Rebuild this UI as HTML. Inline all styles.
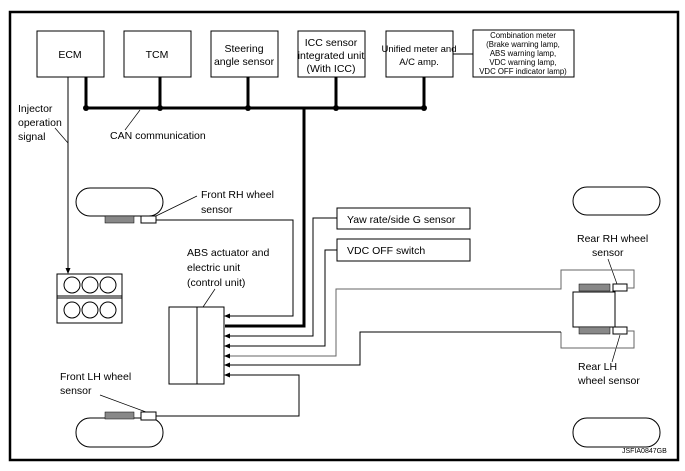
<!DOCTYPE html>
<html><head><meta charset="utf-8"><style>
html,body{margin:0;padding:0;background:#fff}
svg{display:block}
text{font-family:"Liberation Sans",Arial,sans-serif;fill:#000}
</style></head><body>
<svg width="685" height="471" viewBox="0 0 685 471" xmlns="http://www.w3.org/2000/svg">
<defs><marker id="a" markerWidth="6" markerHeight="6" refX="5" refY="3" orient="auto" markerUnits="userSpaceOnUse"><path d="M0,0.5 L6,3 L0,5.5z" fill="#000"/></marker></defs>
<rect x="10" y="12" width="668" height="448" fill="none" stroke="#000" stroke-width="2.5"/>
<g fill="#fff" stroke="#000" stroke-width="1">
<rect x="37" y="31" width="67" height="46"/>
<rect x="124" y="31" width="67" height="46"/>
<rect x="211" y="31" width="67" height="46"/>
<rect x="298" y="31" width="67" height="46"/>
<rect x="386" y="31" width="67" height="46"/>
<rect x="473" y="30" width="101" height="47"/>
</g>
<g font-size="10.5" text-anchor="middle">
<text x="70" y="58">ECM</text>
<text x="157" y="58">TCM</text>
<text x="244" y="52">Steering</text><text x="244" y="65">angle sensor</text>
<text x="331" y="46">ICC sensor</text><text x="331" y="59">integrated unit</text><text x="331" y="72">(With ICC)</text>
<text x="419" y="52" font-size="9.5">Unified meter and</text><text x="419" y="65" font-size="9.5">A/C amp.</text>
</g>
<g font-size="7.8" text-anchor="middle">
<text x="523" y="38">Combination meter</text><text x="523" y="47">(Brake warning lamp,</text><text x="523" y="56">ABS warning lamp,</text><text x="523" y="65">VDC warning lamp,</text><text x="523" y="74">VDC OFF indicator lamp)</text>
</g>
<line x1="453" y1="54" x2="473" y2="54" stroke="#000"/>
<g stroke="#000" stroke-width="3" fill="none">
<line x1="86" y1="108" x2="424" y2="108"/>
<line x1="86" y1="77" x2="86" y2="108"/><line x1="160" y1="77" x2="160" y2="108"/><line x1="248" y1="77" x2="248" y2="108"/><line x1="336" y1="77" x2="336" y2="108"/><line x1="424" y1="77" x2="424" y2="108"/>
<polyline points="304,108 304,326 225,326"/>
</g>
<g fill="#000"><circle cx="86" cy="108" r="3"/><circle cx="160" cy="108" r="3"/><circle cx="248" cy="108" r="3"/><circle cx="336" cy="108" r="3"/><circle cx="424" cy="108" r="3"/></g>
<line x1="125" y1="130" x2="140" y2="110" stroke="#000" stroke-width=".7"/>
<text x="110" y="139" font-size="10.5">CAN communication</text>
<text x="18" y="112" font-size="10.5">Injector</text><text x="18" y="126" font-size="10.5">operation</text><text x="18" y="140" font-size="10.5">signal</text>
<line x1="55" y1="128" x2="68" y2="143" stroke="#000" stroke-width=".7"/>
<line x1="68" y1="77" x2="68" y2="273" stroke="#000" marker-end="url(#a)"/>
<g fill="#fff" stroke="#000"><rect x="57" y="274" width="65" height="49"/><line x1="57" y1="296" x2="122" y2="296"/><line x1="57" y1="298" x2="122" y2="298"/>
<circle cx="72" cy="285" r="8"/><circle cx="90" cy="285" r="8"/><circle cx="108" cy="285" r="8"/>
<circle cx="72" cy="310" r="8"/><circle cx="90" cy="310" r="8"/><circle cx="108" cy="310" r="8"/></g>
<g fill="#fff" stroke="#000">
<rect x="76" y="188" width="87" height="28" rx="14"/><rect x="573" y="187" width="87" height="28" rx="14"/>
<rect x="76" y="418" width="87" height="29" rx="14"/><rect x="573" y="418" width="87" height="29" rx="14"/>
<rect x="141" y="216" width="15" height="7"/><rect x="141" y="412" width="15" height="8"/>
<rect x="613" y="284" width="14" height="7"/><rect x="613" y="327" width="14" height="7"/>
<rect x="573" y="292" width="42" height="35"/>
<rect x="337" y="208" width="133" height="21"/><rect x="337" y="239" width="133" height="22"/>
<rect x="169" y="307" width="55" height="77"/><line x1="197" y1="307" x2="197" y2="384"/>
</g>
<g fill="#888" stroke="#000" stroke-width=".5">
<rect x="105" y="216" width="29" height="7"/><rect x="105" y="412" width="29" height="7"/>
<rect x="579" y="284" width="31" height="7"/><rect x="579" y="327" width="31" height="7"/>
</g>
<text x="347" y="223" font-size="10.5">Yaw rate/side G sensor</text>
<text x="347" y="254" font-size="10.5">VDC OFF switch</text>
<text x="201" y="198" font-size="10.5">Front RH wheel</text><text x="201" y="213" font-size="10.5">sensor</text>
<line x1="156" y1="216" x2="197" y2="196" stroke="#000" stroke-width=".7"/>
<text x="187" y="256" font-size="10.5">ABS actuator and</text><text x="187" y="271" font-size="10.5">electric unit</text><text x="187" y="286" font-size="10.5">(control unit)</text>
<line x1="215" y1="289" x2="203" y2="307" stroke="#000" stroke-width=".7"/>
<text x="60" y="380" font-size="10.5">Front LH wheel</text><text x="60" y="394" font-size="10.5">sensor</text>
<line x1="100" y1="395" x2="146" y2="412" stroke="#000" stroke-width=".7"/>
<text x="577" y="242" font-size="10.5">Rear RH wheel</text><text x="592" y="256" font-size="10.5">sensor</text>
<line x1="608" y1="259" x2="617" y2="284" stroke="#000" stroke-width=".7"/>
<text x="578" y="370" font-size="10.5">Rear LH</text><text x="578" y="384" font-size="10.5">wheel sensor</text>
<line x1="620" y1="335" x2="612" y2="362" stroke="#000" stroke-width=".7"/>
<text x="622" y="453" font-size="7">JSFIA0847GB</text>
<g fill="none" stroke="#000" stroke-width="1">
<polyline points="156,220 293,220 293,316 225,316" marker-end="url(#a)"/>
<polyline points="337,218 313,218 313,336 225,336" marker-end="url(#a)"/>
<polyline points="337,250 325,250 325,346 225,346" marker-end="url(#a)"/>
<polyline points="627,288 634,288 634,270 561,270 561,289 336,289 336,356 225,356" marker-end="url(#a)" stroke="#666"/>
<polyline points="627,331 634,331 634,348 561,348 561,332" stroke="#666"/>
<polyline points="561,332 360,332 360,365 225,365" marker-end="url(#a)"/>
<polyline points="156,416 299,416 299,375 225,375" marker-end="url(#a)"/>
</g>
</svg>
</body></html>
